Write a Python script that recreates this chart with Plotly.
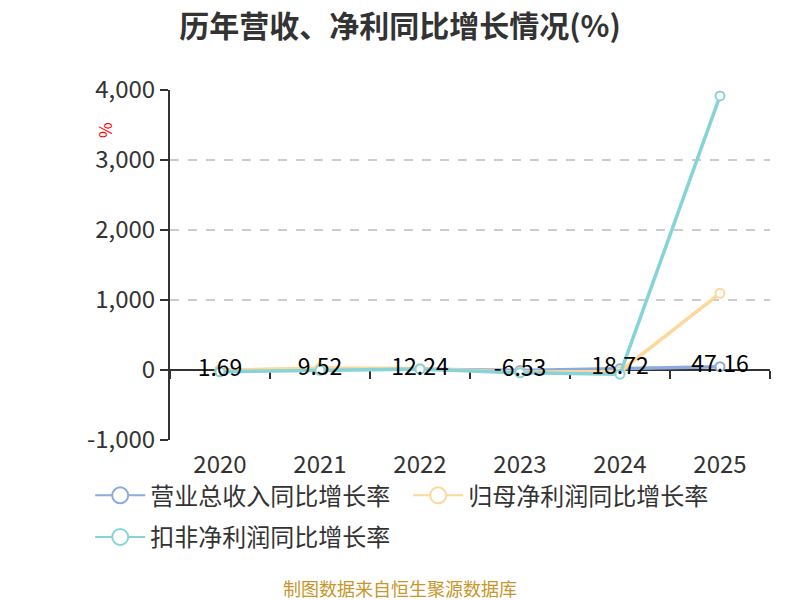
import plotly.graph_objects as go

years = ['2020', '2021', '2022', '2023', '2024', '2025']
revenue_growth = [1.69, 9.52, 12.24, -6.53, 18.72, 47.16]
netprofit_growth = [-5, 30, 20, -30, -20, 1095]
deducted_growth = [-25, -5, 15, -40, -60, 3915]
revenue_labels = ['1.69', '9.52', '12.24', '-6.53', '18.72', '47.16']
y_ticks = [-1000, 0, 1000, 2000, 3000, 4000]
y_tick_labels = ['-1,000', '0', '1,000', '2,000', '3,000', '4,000']

font_cn = 'Noto Sans CJK SC'

series = [
    ('营业总收入同比增长率', revenue_growth, '#8eaadc', 'legend'),
    ('归母净利润同比增长率', netprofit_growth, '#fdd89a', 'legend'),
    ('扣非净利润同比增长率', deducted_growth, '#86d4d8', 'legend2'),
]

data = []
for name, vals, color, leg in series:
    data.append(go.Scatter(
        x=years, y=vals, name=name, mode='lines+markers', showlegend=False,
        line={'color': color, 'width': 3.5},
        marker={'symbol': 'circle', 'size': 9, 'color': 'white',
                'line': {'color': color, 'width': 2}},
    ))
# legend entries with bigger symbols (on x2 so the zero axis gets drawn)
for name, vals, color, leg in series:
    data.append(go.Scatter(
        x=[None], y=[None], name=name, mode='lines+markers', legend=leg, xaxis='x2',
        line={'color': color, 'width': 2},
        marker={'symbol': 'circle', 'size': 18, 'color': 'white',
                'line': {'color': color, 'width': 2}},
    ))

# labels of revenue series drawn on top of all lines
data.append(go.Scatter(
    x=years, y=revenue_growth, mode='text',
    text=revenue_labels, textposition='middle center',
    textfont={'size': 23, 'color': '#000', 'family': font_cn},
    showlegend=False, hoverinfo='skip',
))

legend_style = {'orientation': 'h', 'x': -0.133, 'xanchor': 'left', 'yanchor': 'top',
                'font': {'size': 24, 'color': '#333'}, 'entrywidth': 253,
                'itemwidth': 50}

# page has an 8px body offset, so margins are shifted by 8px
layout = go.Layout(
    width=800, height=600,
    paper_bgcolor='white', plot_bgcolor='white',
    margin={'l': 162, 'r': 38, 't': 82, 'b': 168, 'autoexpand': False},
    font={'family': font_cn, 'color': '#333'},
    title={'text': '<b>历年营收、净利同比增长情况(%)</b>', 'x': 0.49, 'xanchor': 'center',
           'y': 0.97, 'yanchor': 'middle',
           'font': {'size': 30, 'color': '#333', 'family': font_cn}},
    xaxis={'type': 'category', 'categoryarray': years, 'range': [-0.5, 5.5],
           'showline': False, 'ticks': '', 'showgrid': False, 'zeroline': False,
           'tickfont': {'size': 24, 'color': '#333'}, 'ticklabelstandoff': 8},
    xaxis2={'type': 'category', 'categoryarray': years, 'range': [-0.5, 5.5],
            'overlaying': 'x', 'anchor': 'free', 'position': 0.2, 'layer': 'below traces',
            'showline': True, 'linecolor': '#333', 'linewidth': 2,
            'ticks': 'outside', 'tickson': 'boundaries', 'ticklen': 8,
            'tickcolor': '#333', 'tickwidth': 2,
            'showticklabels': False, 'showgrid': False, 'zeroline': False},
    yaxis={'range': [-1000, 4000], 'tickvals': y_ticks, 'ticktext': y_tick_labels,
           'showline': True, 'linecolor': '#333', 'linewidth': 2, 'layer': 'below traces',
           'ticks': 'outside', 'ticklen': 8, 'tickcolor': '#333', 'tickwidth': 2,
           'showgrid': True, 'gridcolor': '#cccccc', 'griddash': 'dash', 'gridwidth': 1.5,
           'zeroline': False, 'tickfont': {'size': 24, 'color': '#333'}},
    legend=dict(legend_style, y=-0.095),
    legend2=dict(legend_style, y=-0.214),
    annotations=[
        {'text': '%', 'xref': 'paper', 'yref': 'paper', 'x': -0.108, 'y': 0.886,
         'xanchor': 'center', 'yanchor': 'middle',
         'showarrow': False, 'textangle': -90,
         'font': {'size': 17, 'color': 'red', 'family': font_cn}},
        {'text': '制图数据来自恒生聚源数据库', 'xref': 'paper', 'yref': 'paper',
         'x': (392 - 162) / 600, 'y': -148 / 350, 'xanchor': 'center', 'yanchor': 'middle',
         'showarrow': False,
         'font': {'size': 18, 'color': '#c8962a', 'family': font_cn}},
    ],
)

fig = go.Figure(data=data, layout=layout)
fig.write_html('out.html')
